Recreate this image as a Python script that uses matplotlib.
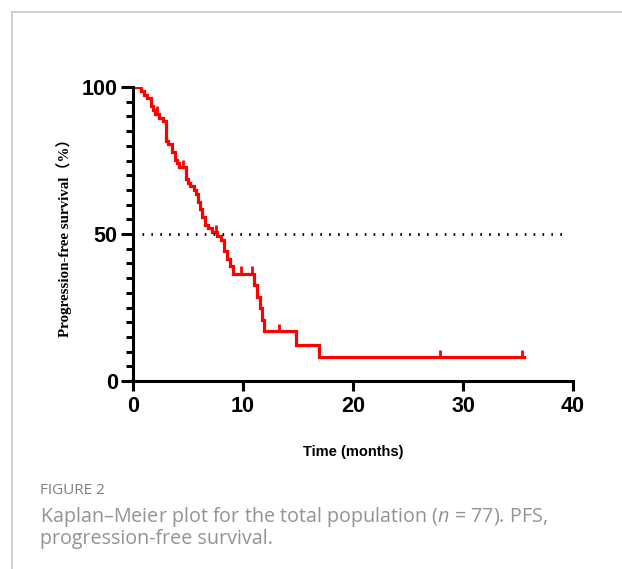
import matplotlib.pyplot as plt
from matplotlib.lines import Line2D
from matplotlib.ticker import MultipleLocator

plt.rcParams['mathtext.fontset'] = 'custom'
plt.rcParams['mathtext.rm'] = 'Open Sans'
plt.rcParams['mathtext.it'] = 'Open Sans:italic'

# Kaplan-Meier step values (months, % progression-free)
times = [0, 0.7, 1.0, 1.3, 1.6, 1.8, 2.0, 2.4, 2.7, 3.0, 3.2, 3.5, 3.8, 4.0,
         4.2, 4.8, 5.0, 5.2, 5.5, 5.7, 5.9, 6.1, 6.3, 6.5, 6.8, 7.2, 7.6, 8.0,
         8.3, 8.5, 8.8, 9.1, 11.0, 11.3, 11.5, 11.7, 11.9, 12.1, 14.8, 16.9, 35.5]
survival = [100, 98.7, 97.4, 96.1, 93.5, 92.2, 90.9, 89.6, 88.3, 81.8, 80.5,
            77.9, 75.3, 74.0, 72.7, 68.8, 67.5, 66.2, 64.9, 63.6, 61.0, 58.4,
            55.8, 53.2, 51.9, 50.6, 49.3, 48.0, 44.2, 41.6, 39.0, 36.4, 32.5,
            28.6, 24.7, 20.8, 16.9, 16.9, 12.2, 8.1, 8.1]

# censored observations
censor_t = [2.2, 4.5, 7.5, 9.8, 10.8, 13.3, 27.9, 35.4]
censor_s = [90.9, 72.7, 50.6, 36.4, 36.4, 16.9, 8.1, 8.1]

median_line = 50
xticks = [0, 10, 20, 30, 40]
yticks = [0, 50, 100]

fig = plt.figure(figsize=(6.22, 5.69), dpi=100)

# light frame of the journal page
fig.add_artist(Line2D([12 / 622, 12 / 622], [0, 1 - 12 / 569], color='#c8c8c8', lw=1.2))
fig.add_artist(Line2D([12 / 622, 1], [1 - 12 / 569, 1 - 12 / 569], color='#c8c8c8', lw=1.2))

ax = fig.add_axes([133 / 622, 1 - 381 / 569, 440 / 622, 294 / 569])
ax.step(times, survival, where='post', color='#ff0000', lw=2.3, solid_joinstyle='miter')
for t, s in zip(censor_t, censor_s):
    ax.plot([t, t], [s, s + 2.6], color='#ff0000', lw=2, solid_capstyle='butt')

ax.plot([0.8, 39.5], [median_line, median_line], color='black', lw=2,
        ls=(0, (0.6, 2.6)))

ax.set_xlim(0, 40)
ax.set_ylim(0, 100)
ax.set_xticks(xticks)
ax.set_yticks(yticks)
ax.yaxis.set_minor_locator(MultipleLocator(5))
for side in ['top', 'right']:
    ax.spines[side].set_visible(False)
for side in ['left', 'bottom']:
    ax.spines[side].set_linewidth(2.2)
ax.tick_params(axis='y', which='major', length=9, width=2.2, pad=2)
ax.tick_params(axis='y', which='minor', length=5, width=2.2)
ax.tick_params(axis='x', which='major', length=7, width=2.2, pad=4)
for lab in ax.get_xticklabels() + ax.get_yticklabels():
    lab.set_fontfamily('Liberation Sans')
    lab.set_fontweight('bold')
    lab.set_fontsize(15.5)

ax.set_xlabel('Time (months)', fontfamily='Liberation Sans', fontweight='bold',
              fontsize=10.5, labelpad=20)
ax.set_ylabel('Progression-free survival（%）',
              family=['Liberation Serif', 'Noto Sans CJK SC'],
              fontweight='bold', fontsize=10.8, labelpad=7)

fig.text(40 / 622, 1 - 491 / 569, 'FIGURE 2', color='#7f7f7f',
         fontfamily='Open Sans', fontsize=11, va='center')
fig.text(40 / 622, 1 - 517 / 569,
         'Kaplan\u2013Meier plot for the total population ($\\it{n}$ = 77). PFS,',
         color='#939393', fontfamily='Open Sans', fontsize=14.2, va='center')
fig.text(40 / 622, 1 - 539 / 569, 'progression-free survival.', color='#939393',
         fontfamily='Open Sans', fontsize=14.2, va='center')

fig.savefig('out.png', dpi=100)
